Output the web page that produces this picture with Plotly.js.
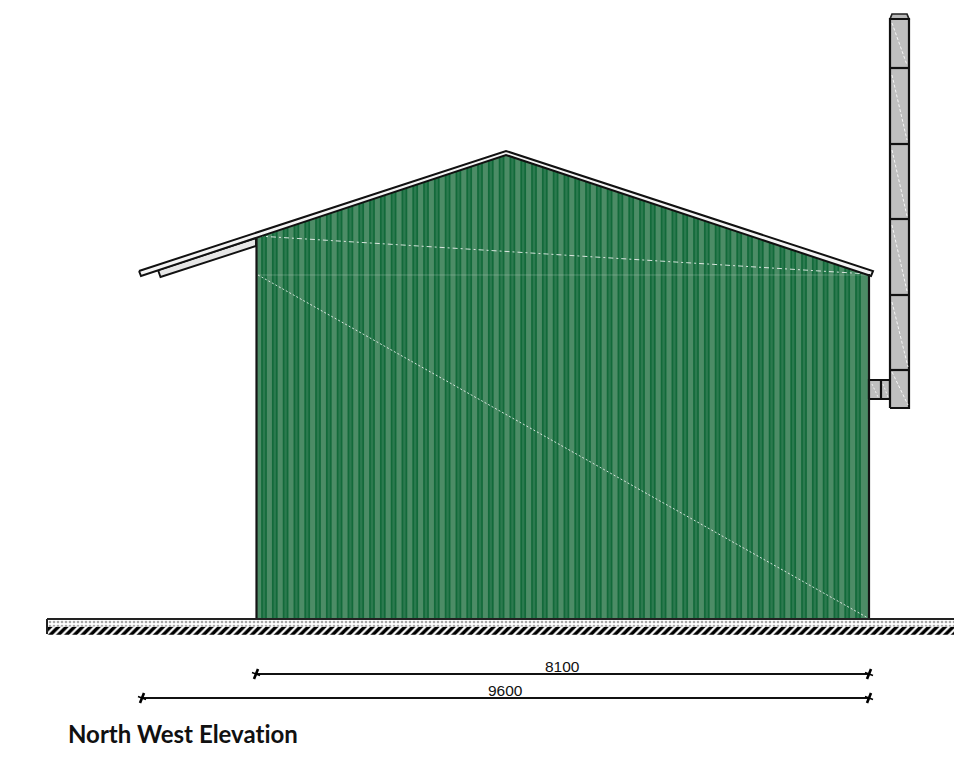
<!DOCTYPE html>
<html><head><meta charset="utf-8">
<script src="https://cdn.plot.ly/plotly-3.0.1.min.js"></script>
<style>html,body{margin:0;padding:0;background:#fff}#c{width:954px;height:758px}
text, text *{font-variant-ligatures:none !important;font-feature-settings:"liga" 0,"clig" 0 !important}</style>
</head><body><div id="c"></div>
<script>
// Values (picture pixels used as axis units)
const wallX = [256.5, 256.5, 506, 869, 869];
const wallY = [619, 236, 153, 274, 619];
const ribX = [262,272.8,283.6,294.4,305.2,316,326.8,337.6,348.4,359.2,370,380.8,391.6,402.4,413.2,424,434.8,445.6,456.4,467.2,478,488.8,499.6,510.4,521.2,532,542.8,553.6,564.4,575.2,586,596.8,607.6,618.4,629.2,640,650.8,661.6,672.4,683.2,694,704.8,715.6,726.4,737.2,748,758.8,769.6,780.4,791.2,802,812.8,823.6,834.4,845.2,856];
const ribTopY = 148, ribBottomY = 618;
const maskX = [257.5, 257.5, 506, 868, 868];
const maskY = [100, 236, 153, 274, 100];
const roofX = [139, 506, 873, 871, 506, 141];
const roofY = [271, 151, 271, 276, 155, 276];
const gutterX = [158, 256, 256, 160.5];
const gutterY = [270, 238, 246, 277];
const wallScratchA = {x:[258,868], y:[236,274]};
const wallScratchB = {x:[258,868], y:[275,618]};
const wallScratchC = {x:[258,868], y:[275,275]};
const chimneyX = [890, 890, 909, 909];
const chimneyY = [408, 19, 19, 408];
const capX = [890, 892, 907, 909];
const capY = [19, 14, 14, 19];
const jointY = [68, 144, 219, 295, 370];
const chimneyScratchX0 = [892,892,892,892,892,892];
const chimneyScratchX1 = [907,907,907,907,908,908];
const chimneyScratchY0 = [23,75,150,225,302,372];
const chimneyScratchY1 = [65,140,216,291,367,405];
const flueX = [869, 869, 890, 890];
const flueY = [399, 380, 380, 399];
const flueDividerX = 881;
const groundLeft = 47, groundRight = 954, groundTop = 619;
const dimLines = [{x0:256,x1:869,y:674,label:'8100',lx:562,ly:666},{x0:142,x1:869,y:698,label:'9600',lx:505,ly:690}];
const titleText = 'North West Elevation';

function segs(list){const x=[],y=[];list.forEach(s=>{x.push(s[0],s[2],null);y.push(s[1],s[3],null);});return {x,y};}
const line=(d,color,width,dash)=>({type:'scatter',mode:'lines',x:d.x,y:d.y,hoverinfo:'skip',line:{color,width,dash:dash||'solid',simplify:false},connectgaps:false});
const poly=(x,y,fill,lc,lw)=>({type:'scatter',mode:'lines',x:x.concat(x[0]),y:y.concat(y[0]),fill:'toself',fillcolor:fill,hoverinfo:'skip',line:{color:lc||fill,width:lw===undefined?0:lw}});
const bar=(yc,h,pat)=>({type:'bar',orientation:'h',y:[yc],x:[groundRight-groundLeft],base:[groundLeft],width:[h],hoverinfo:'skip',marker:{color:'#fff',line:{width:0},pattern:pat}});

const traces=[];
traces.push(bar(630.7,8,{shape:'/',size:5.7,solidity:0.62,fgcolor:'#000',fgopacity:1,bgcolor:'#fff',fillmode:'replace'}));
traces.push(bar(623.3,6.5,{shape:'.',size:4,solidity:0.35,fgcolor:'#a8a8a8',fgopacity:1,bgcolor:'#fff',fillmode:'replace'}));
traces.push(poly(wallX,wallY,'#4c8c66'));
traces.push(line(segs(ribX.map(x=>[x+2,ribTopY,x+2,ribBottomY])),'#2c7a4f',3.6));
traces.push(line(segs(ribX.flatMap(x=>[[x,ribTopY,x,ribBottomY],[x+4,ribTopY,x+4,ribBottomY]])),'#126a3a',1.7));
traces.push(poly(maskX,maskY,'#ffffff'));
traces.push(line(wallScratchC,'rgba(255,255,255,0.22)',1));
traces.push(line(wallScratchA,'rgba(255,255,255,0.8)',1,'5px,3px,2px,3px'));
traces.push(line(wallScratchB,'rgba(255,255,255,0.8)',1,'2px,2px'));
traces.push(poly(gutterX,gutterY,'#e6e6e6','#111',1.9));
traces.push(poly(roofX,roofY,'#f4f4f4','#111',2));
traces.push(line({x:[256.5,256.5,null,869,869],y:[237,620,null,274,620]},'#151515',2.2));
traces.push(poly(flueX,flueY,'#bfbfbf','#111',2.2));
traces.push(line({x:[flueDividerX,flueDividerX],y:[380,399]},'#111',2.2));
traces.push(line(segs([[872,384,878,397],[883,384,888,397]]),'rgba(255,255,255,0.8)',1,'2px,2px'));
traces.push(poly(capX,capY,'#b8b8b8','#222',1.7));
traces.push(poly(chimneyX,chimneyY,'#bfbfbf','#111',2.2));
traces.push(line(segs(chimneyScratchX0.map((x,i)=>[x,chimneyScratchY0[i],chimneyScratchX1[i],chimneyScratchY1[i]])),'rgba(255,255,255,0.85)',1,'3px,2px'));
traces.push(line(segs(jointY.map(y=>[890,y,909,y])),'#111',2.2));
traces.push(line({x:[groundLeft,groundLeft,null,groundLeft,groundRight],y:[619,634,null,groundTop,groundTop]},'#222',2));
dimLines.forEach(d=>{
  traces.push(line({x:[d.x0,d.x1],y:[d.y,d.y]},'#111',1.9));
  [d.x0,d.x1].forEach(x=>{
    traces.push(line(segs([[x-2,d.y+5,x+2,d.y-5]]),'#000',2.6));
    traces.push(line(segs([[x-4,d.y-1.5,x+4,d.y+1.5]]),'#000',1.6));
  });
});

const annotations=dimLines.map(d=>({x:d.lx,y:d.ly,xref:'x',yref:'y',text:d.label,showarrow:false,xanchor:'center',yanchor:'middle',font:{family:'Liberation Sans',size:15.5,color:'#111'}}));
annotations.push({x:65.5,y:733,xref:'x',yref:'y',text:'<b>'+titleText+'</b>',showarrow:false,xanchor:'left',yanchor:'middle',font:{family:'Lato',size:24,color:'#111'}});

const axis=r=>({range:r,visible:false,fixedrange:true,showgrid:false,zeroline:false});
Plotly.newPlot('c',traces,{
  width:954,height:758,margin:{l:0,r:0,t:0,b:0},paper_bgcolor:'#fff',plot_bgcolor:'#fff',
  showlegend:false,barmode:'overlay',xaxis:axis([0,954]),yaxis:axis([758,0]),annotations
},{displayModeBar:false,staticPlot:true});
</script></body></html>
